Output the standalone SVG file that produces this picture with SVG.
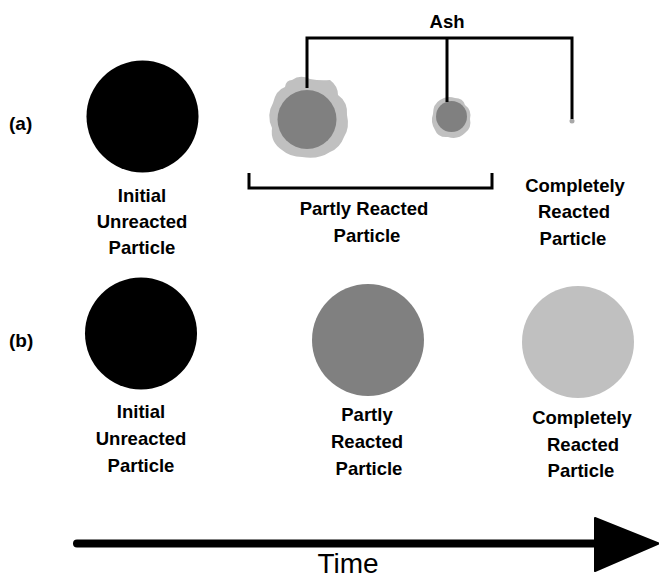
<svg xmlns="http://www.w3.org/2000/svg" width="659" height="579" viewBox="0 0 659 579">
<style>
.lbl{font-family:"Liberation Sans",Arial,sans-serif;font-weight:bold;font-size:18.5px;fill:#000;text-anchor:middle}
.tag{font-family:"Liberation Sans",Arial,sans-serif;font-weight:bold;font-size:19px;fill:#000}
.ln{fill:none;stroke:#000;stroke-width:3}
.ash{fill:#c0c0c0}
.core{fill:#808080}
</style>
<rect width="659" height="579" fill="#fff"/>
<text class="tag" x="9" y="130">(a)</text>
<text class="tag" x="9" y="347">(b)</text>

<g id="a-initial">
<circle cx="142.5" cy="116.5" r="56" fill="#000"/>
<text class="lbl" x="142" y="202">Initial</text>
<text class="lbl" x="142" y="228">Unreacted</text>
<text class="lbl" x="142" y="254">Particle</text>
</g>
<g id="a-partly-large">
<path class="ash" d="M292 80 Q300 74 310 79 Q320 81 330 80 Q338 86 338 95 Q348 102 347 115 Q350 128 344 137 Q340 148 330 152 Q318 160 302 157 Q290 157 282 150 Q270 142 272 128 Q266 115 273 103 Q276 90 285 87 Q286 80 292 80 Z"/>
<circle class="core" cx="307" cy="119.5" r="29.5"/>
</g>
<g id="a-partly-small">
<path class="ash" d="M440 100 Q447 95 455 98 Q463 98 465 105 Q472 110 470 119 Q472 128 465 133 Q458 140 448 137 Q438 138 435 130 Q430 122 433 114 Q433 104 440 100 Z"/>
<circle class="core" cx="451.5" cy="116.5" r="15.5"/>
</g>
<g id="a-partly-label">
<text class="lbl" x="364" y="215">Partly Reacted</text>
<text class="lbl" x="367" y="242">Particle</text>
</g>
<g id="a-complete">
<circle cx="572" cy="121" r="2.5" fill="#a8a8a8"/>
<text class="lbl" x="575" y="192">Completely</text>
<text class="lbl" x="574" y="218">Reacted</text>
<text class="lbl" x="573" y="245">Particle</text>
</g>
<g id="ash-label">
<text class="lbl" x="447" y="28">Ash</text>
</g>

<g id="b-initial">
<circle cx="141" cy="333.5" r="56" fill="#000"/>
<text class="lbl" x="141" y="418">Initial</text>
<text class="lbl" x="141" y="445">Unreacted</text>
<text class="lbl" x="141" y="472">Particle</text>
</g>
<g id="b-partly">
<circle class="core" cx="368" cy="340" r="56"/>
<text class="lbl" x="367" y="421">Partly</text>
<text class="lbl" x="367" y="448">Reacted</text>
<text class="lbl" x="369" y="475">Particle</text>
</g>
<g id="b-complete">
<circle cx="578" cy="342" r="56" fill="#c0c0c0"/>
<text class="lbl" x="582" y="424">Completely</text>
<text class="lbl" x="583" y="451">Reacted</text>
<text class="lbl" x="581" y="477">Particle</text>
</g>

<g id="connectors">
<polyline class="ln" points="307,88 307,38 572,38 572,119"/>
<line class="ln" x1="447" y1="38" x2="447" y2="102"/>
<polyline class="ln" points="249,173 249,188 492,188 492,173"/>
<line x1="77" y1="543.5" x2="600" y2="543.5" stroke="#000" stroke-width="8" stroke-linecap="round"/>
<path d="M595 518 L659 543.5 L595 571 Z" fill="#000" stroke="#000" stroke-width="2" stroke-linejoin="round"/>
</g>
<text x="348" y="573" font-family="'Liberation Sans',Arial,sans-serif" font-size="28" text-anchor="middle" fill="#000">Time</text>
</svg>
